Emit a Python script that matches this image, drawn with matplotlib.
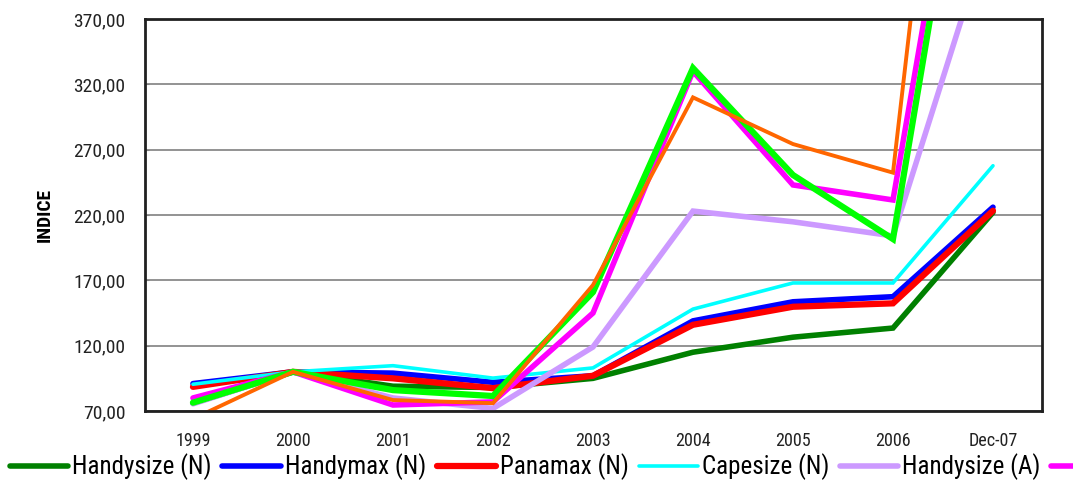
import numpy as np
import matplotlib.pyplot as plt
from matplotlib import font_manager
from matplotlib.ticker import FuncFormatter

# prefer a narrow face for the labels, fall back to whatever is present
names = {f.name for f in font_manager.fontManager.ttflist}
narrow = [n for n in ['Roboto Condensed', 'Liberation Sans Narrow', 'DejaVu Sans Condensed']
          if n in names]
plt.rcParams['font.family'] = narrow + ['DejaVu Sans']

# categories on the x axis
years = ['1999', '2000', '2001', '2002', '2003', '2004', '2005', '2006', 'Dec-07']

# index series (base 2000 = 100)
handysize_n = [76, 100, 89, 88, 95, 115, 126.5, 133.5, 222]
handymax_n = [91, 100, 99, 92, 97, 139, 153.6, 157.5, 226]
panamax_n = [88.5, 100, 95, 87.5, 97, 136, 149.8, 152.4, 223.3]
capesize_n = [90.5, 100, 104.7, 95.2, 103, 148, 168, 168, 257.7]
handysize_a = [75.5, 100, 80, 72, 119, 223, 214.8, 204, 446]
handymax_a = [80, 100, 74.6, 77, 145, 330, 243, 231.5, 674]
panamax_a = [76.4, 100, 86, 81.5, 161, 332.4, 250.6, 201.6, 656]
capesize_a = [64, 100, 78.4, 76, 166.4, 310, 274.3, 252.4, 916]

series = [
    ('Handysize (N)', handysize_n, '#008000', 4.0),
    ('Handymax (N)', handymax_n, '#0000ff', 4.0),
    ('Panamax (N)', panamax_n, '#ff0000', 4.5),
    ('Capesize (N)', capesize_n, '#00ffff', 2.6),
    ('Handysize (A)', handysize_a, '#cc99ff', 4.0),
    ('Handymax (A)', handymax_a, '#ff00ff', 4.0),
    ('Panamax (A)', panamax_a, '#00ff00', 4.5),
    ('Capesize (A)', capesize_a, '#ff6600', 2.8),
]

fig = plt.figure(figsize=(10.73, 4.83), dpi=100)
ax = fig.add_axes([0.1351, 0.149, 0.8360, 0.8117])

x = np.arange(len(years))
for name, vals, color, lw in series:
    ax.plot(x, vals, color=color, lw=lw, label=name,
            solid_joinstyle='miter', solid_capstyle='round')

ax.set_xlim(-0.48, 8.49)
ax.set_ylim(70, 370)
ax.set_yticks(np.arange(70, 371, 50))
ax.yaxis.set_major_formatter(FuncFormatter(lambda v, p: f'{v:.2f}'.replace('.', ',')))
ax.set_xticks(x)
ax.set_xticklabels(years)

ax.grid(axis='y', color='#808080', lw=1.2)
ax.set_axisbelow(True)
for s in ax.spines.values():
    s.set_linewidth(2)
    s.set_color('#202020')

ax.tick_params(axis='y', direction='in', length=3, color='#808080',
               labelsize=14, pad=14, labelcolor='#222222')
ax.tick_params(axis='x', length=0, labelsize=13, pad=15, labelcolor='#222222')

ax.set_ylabel('INDICE', fontsize=14, fontweight='bold', labelpad=14)

leg = fig.legend(loc='center left', bbox_to_anchor=(0.009, 0.033), ncol=8,
                 frameon=False, fontsize=18, handlelength=2.35,
                 handletextpad=0.16, columnspacing=0.42, borderaxespad=0,
                 borderpad=0)
for h in leg.legend_handles:
    h.set_solid_capstyle('round')

fig.savefig('out.png', dpi=100)
